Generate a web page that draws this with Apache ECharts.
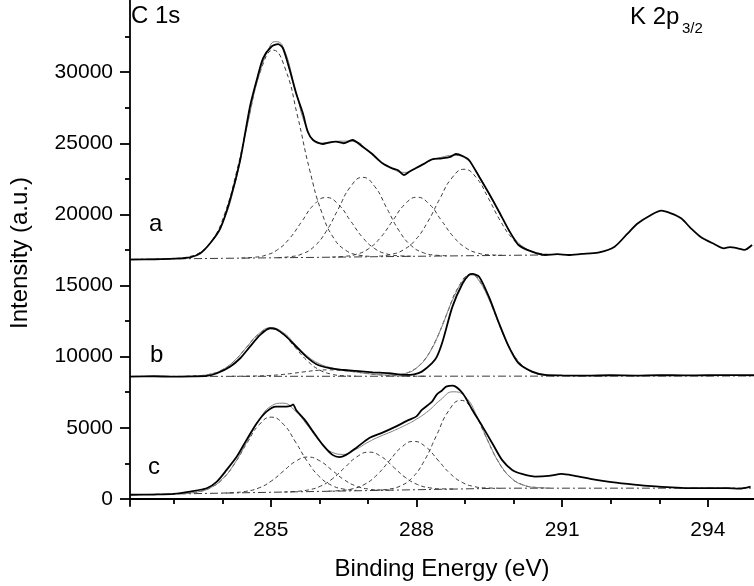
<!DOCTYPE html>
<html>
<head>
<meta charset="utf-8">
<script src="https://cdn.jsdelivr.net/npm/echarts@6/dist/echarts.min.js"></script>
<style>html,body{margin:0;padding:0;background:#fff}#chart{width:754px;height:586px}</style>
</head>
<body>
<div id="chart"></div>
<script>
// ---- tick values ----
const xMajorTicks = [285, 288, 291, 294];
const xMinorTicks = [283, 284, 286, 287, 289, 290, 292, 293];
const yMajorTicks = [0, 5000, 10000, 15000, 20000, 25000, 30000];
const yMinorTicks = [2500, 7500, 12500, 17500, 22500, 27500, 32500];

// ---- spectrum a ----
const spectrumA = [[282.1,16816],[282.6,16844],[283.0,16886],[283.34,16984],[283.55,17265],[283.75,17968],[283.96,19022],[284.16,21011],[284.37,23822],[284.57,27567],[284.71,29443],[284.84,30968],[285.01,31783],[285.15,31973],[285.25,31671],[285.39,30146],[285.52,28509],[285.66,27103],[285.76,25810],[285.87,25227],[286.07,24946],[286.2,25050],[286.34,25108],[286.5,25000],[286.68,25227],[286.89,24756],[287.09,24243],[287.3,23590],[287.5,23238],[287.62,23100],[287.74,22767],[287.85,23000],[287.98,23238],[288.15,23550],[288.32,23871],[288.52,23941],[288.7,24050],[288.81,24243],[288.95,24100],[289.08,23822],[289.29,22648],[289.49,21482],[289.7,20188],[289.9,18903],[290.1,17849],[290.38,17378],[290.65,17146],[290.9,17200],[291.13,17146],[291.4,17220],[291.74,17308],[292.08,17729],[292.35,18671],[292.56,19373],[292.83,19957],[293.04,20259],[293.24,20076],[293.45,19725],[293.65,19022],[293.86,18390],[294.13,17919],[294.33,17617],[294.45,17700],[294.61,17617],[294.75,17500],[294.91,17849]];
const envelopeA = [[283.5,17200],[283.75,17950],[284.0,19350],[284.25,22000],[284.5,26000],[284.75,29700],[285.0,31950],[285.1,32140],[285.25,31800],[285.5,28900],[285.75,26000],[286.0,25000],[286.25,25100],[286.5,25150],[286.75,25100],[287.0,24450],[287.25,23700],[287.5,23200],[287.75,22950],[288.0,23250],[288.25,23750],[288.5,24000],[288.75,24150],[289.0,23950],[289.25,22900],[289.5,21400],[289.75,19850],[290.0,18400],[290.25,17600],[290.5,17250]];
const baselineA = [[282.1,16840],[284,16910],[286,16980],[288,17055],[290.7,17150]];
const fitA1 = [[283.05,16906],[283.3,17015],[283.55,17350],[283.8,18216],[284.05,20050],[284.3,23068],[284.55,26873],[284.8,30196],[285.05,31548],[285.3,30214],[285.55,26909],[285.8,23122],[286.05,20123],[286.3,18307],[286.55,17459],[286.8,17142],[287.05,17051]];
const fitA2 = [[284.39,16933],[284.64,16980],[284.89,17126],[285.14,17519],[285.39,18324],[285.64,19517],[285.89,20686],[286.14,21188],[286.39,20704],[286.64,19553],[286.89,18379],[287.14,17592],[287.39,17217],[287.64,17089],[287.89,17061]];
const fitA3 = [[285.14,16963],[285.39,17022],[285.64,17215],[285.89,17735],[286.14,18803],[286.39,20387],[286.64,21939],[286.89,22605],[287.14,21957],[287.39,20423],[287.64,18857],[287.89,17808],[288.14,17306],[288.39,17132],[288.64,17091]];
const fitA4 = [[286.26,17001],[286.51,17047],[286.76,17192],[287.01,17580],[287.26,18375],[287.51,19555],[287.76,20709],[288.01,21206],[288.26,20727],[288.51,19591],[288.76,18430],[289.01,17653],[289.26,17283],[289.51,17156],[289.76,17128]];
const fitA5 = [[287.23,17065],[287.48,17184],[287.73,17505],[287.98,18215],[288.23,19466],[288.48,21098],[288.73,22566],[288.98,23171],[289.23,22584],[289.48,21134],[289.73,19520],[289.98,18288],[290.23,17597],[290.48,17294],[290.73,17193]];

// ---- spectrum b ----
const spectrumB = [[282.1,8600],[282.6,8620],[283.0,8590],[283.4,8610],[283.68,8640],[283.89,8833],[284.16,9297],[284.37,9887],[284.57,10702],[284.78,11524],[284.98,11995],[285.11,11925],[285.32,11405],[285.52,10702],[285.73,9999],[285.93,9486],[286.21,9184],[286.5,9060],[286.75,8994],[287.1,8900],[287.43,8833],[287.77,8713],[287.95,8760],[288.11,8945],[288.32,9536],[288.42,10000],[288.54,11100],[288.74,13513],[288.95,15157],[289.08,15750],[289.15,15811],[289.29,15621],[289.49,14216],[289.7,12346],[289.9,10702],[290.1,9536],[290.38,8945],[290.65,8713],[291.0,8680],[291.5,8660],[292.0,8690],[292.5,8670],[293.0,8700],[293.5,8680],[294.0,8690],[294.5,8700],[294.95,8690]];
const envelopeB = [[283.5,8657],[283.75,8767],[284.0,9074],[284.25,9710],[284.5,10660],[284.75,11600],[285.0,12031],[285.25,11705],[285.5,10880],[285.75,10048],[286.0,9499],[286.25,9216],[286.5,9054],[286.75,8923],[287.0,8805],[287.25,8723],[287.5,8700],[287.75,8803],[288.0,9205],[288.25,10188],[288.5,11926],[288.75,14041],[289.0,15547],[289.12,15750],[289.25,15514],[289.5,13961],[289.75,11843],[290.0,10135],[290.25,9175],[290.5,8778],[290.75,8655]];
const baselineB = [[282.1,8610],[294.95,8640]];
const fitB1 = [[283.25,8627],[283.5,8657],[283.75,8767],[284.0,9073],[284.25,9708],[284.5,10652],[284.75,11576],[285.0,11970],[285.25,11576],[285.5,10652],[285.75,9708],[286.0,9073],[286.25,8767],[286.5,8657],[286.75,8627]];
const fitB2 = [[284.2,8622],[284.45,8626],[284.7,8640],[284.95,8671],[285.2,8732],[285.45,8826],[285.7,8938],[285.95,9033],[286.2,9070],[286.45,9033],[286.7,8938],[286.95,8826],[287.2,8732],[287.45,8671],[287.7,8640],[287.95,8626],[288.2,8622]];
const fitB3 = [[287.37,8656],[287.62,8719],[287.87,8953],[288.12,9605],[288.37,10955],[288.62,12964],[288.87,14932],[289.12,15770],[289.37,14932],[289.62,12964],[289.87,10955],[290.12,9605],[290.37,8953],[290.62,8719],[290.87,8656]];

// ---- spectrum c ----
const spectrumC = [[282.1,290],[282.6,310],[283.0,351],[283.34,515],[283.68,750],[283.89,1218],[284.09,2038],[284.3,2975],[284.5,4146],[284.71,5319],[284.91,6135],[285.11,6486],[285.32,6486],[285.42,6560],[285.46,6650],[285.52,6254],[285.7,5551],[285.87,4729],[286.07,3795],[286.27,3092],[286.41,2930],[286.55,3092],[286.75,3563],[287.02,4265],[287.3,4659],[287.57,5081],[287.84,5551],[288.0,5800],[288.11,6254],[288.32,6837],[288.42,7350],[288.52,7600],[288.61,7891],[288.75,7962],[288.95,7428],[289.15,6254],[289.36,5081],[289.56,3914],[289.76,2741],[289.97,2038],[290.17,1757],[290.45,1567],[290.72,1616],[290.99,1757],[291.26,1616],[291.61,1384],[291.94,1216],[292.35,1054],[292.76,914],[293.17,822],[293.58,752],[293.99,752],[294.4,752],[294.65,720],[294.88,864]];
const envelopeC = [[283.25,392],[283.5,495],[283.75,772],[284.0,1387],[284.25,2477],[284.5,3970],[284.75,5487],[285.0,6509],[285.25,6728],[285.5,6192],[285.75,5183],[286.0,4072],[286.25,3295],[286.5,3128],[286.75,3479],[287.0,3979],[287.25,4395],[287.5,4748],[287.75,5145],[288.0,5605],[288.25,6201],[288.5,6977],[288.75,7529],[289.0,7193],[289.25,5773],[289.5,3866],[289.75,2274],[290.0,1331],[290.25,924],[290.5,792],[290.75,760]];
const baselineC = [[282.1,290],[289.8,752],[294.95,755]];
const fitC1 = [[283.26,393],[283.51,503],[283.76,789],[284.01,1413],[284.26,2506],[284.51,3930],[284.76,5213],[285.01,5745],[285.26,5243],[285.51,3990],[285.76,2596],[286.01,1533],[286.26,939],[286.51,683],[286.76,603]];
const fitC2 = [[284.01,410],[284.26,447],[284.51,542],[284.76,779],[285.01,1254],[285.26,1954],[285.51,2639],[285.76,2940],[286.01,2669],[286.26,2014],[286.51,1344],[286.76,899],[287.01,692],[287.26,627],[287.51,620]];
const fitC3 = [[285.27,486],[285.52,525],[285.77,629],[286.02,890],[286.27,1417],[286.52,2193],[286.77,2953],[287.02,3285],[287.27,2983],[287.52,2253],[287.77,1507],[288.02,1010],[288.27,779],[288.52,705],[288.77,696]];
const fitC4 = [[286.19,543],[286.44,589],[286.69,715],[286.94,1041],[287.19,1700],[287.44,2673],[287.69,3627],[287.94,4041],[288.19,3657],[288.44,2733],[288.69,1790],[288.94,1161],[289.19,865],[289.44,769],[289.69,753]];
const fitC5 = [[287.16,608],[287.41,678],[287.66,897],[287.91,1482],[288.16,2677],[288.41,4447],[288.66,6182],[288.91,6929],[289.16,6212],[289.41,4507],[289.66,2767],[289.91,1595],[290.16,1025],[290.41,821],[290.66,766]];

// ---- labels ----
const xAxisTitle = 'Binding Energy (eV)';
const yAxisTitle = 'Intensity (a.u.)';
const curveLabels = ['a', 'b', 'c'];

const FONT = '"Liberation Sans", Arial, sans-serif';
const chart = echarts.init(document.getElementById('chart'), null, {renderer: 'canvas'});

function comp(data) {
  return {type: 'line', data: data, showSymbol: false, smooth: 0.5, silent: true,
    lineStyle: {color: '#3a3a3a', width: 1, type: [4, 3]}, z: 2};
}
function base(data) {
  return {type: 'line', data: data, showSymbol: false, silent: true,
    lineStyle: {color: '#3a3a3a', width: 1, type: [8, 3, 2, 3]}, z: 2};
}
function env(data) {
  return {type: 'line', data: data, showSymbol: false, smooth: 0.5, silent: true,
    lineStyle: {color: '#808080', width: 1}, z: 3};
}
function spec(data) {
  return {type: 'line', data: data, showSymbol: false, smooth: 0.25, silent: true,
    lineStyle: {color: '#000', width: 1.8}, z: 4};
}

const series = [
  comp(fitA1), comp(fitA2), comp(fitA3), comp(fitA4), comp(fitA5), base(baselineA), env(envelopeA), spec(spectrumA),
  comp(fitB1), comp(fitB2), comp(fitB3), base(baselineB), env(envelopeB), spec(spectrumB),
  comp(fitC1), comp(fitC2), comp(fitC3), comp(fitC4), comp(fitC5), base(baselineC), env(envelopeC), spec(spectrumC)
];

const txt = (text, x, y, size) => ({
  type: 'text', x: x, y: y, silent: true, z: 10,
  style: {text: text, font: size + 'px ' + FONT, fill: '#000',
    textAlign: 'left', align: 'left', textVerticalAlign: 'middle', verticalAlign: 'middle'}
});

chart.setOption({
  animation: false,
  backgroundColor: '#fff',
  grid: {left: 126, right: 0, top: 0, bottom: 80, containLabel: false},
  xAxis: [{
    type: 'value', min: 282.1, max: 294.95, position: 'bottom',
    name: xAxisTitle, nameLocation: 'middle', nameGap: 51,
    nameTextStyle: {fontFamily: FONT, fontSize: 24, color: '#000'},
    axisLine: {show: true, lineStyle: {color: '#000', width: 1.8}},
    axisTick: {show: true, inside: false, length: 8, customValues: xMajorTicks, lineStyle: {color: '#000', width: 1.8}},
    axisLabel: {show: true, customValues: xMajorTicks, margin: 14, fontFamily: FONT, fontSize: 21, color: '#000',
      formatter: v => String(v)},
    splitLine: {show: false}
  }, {
    type: 'value', min: 282.1, max: 294.95, position: 'bottom', offset: 0,
    axisLine: {show: false},
    axisTick: {show: true, inside: false, length: 5, customValues: xMinorTicks, lineStyle: {color: '#000', width: 1.8}},
    axisLabel: {show: false},
    splitLine: {show: false}
  }],
  yAxis: [{
    type: 'value', min: -500, max: 35070, position: 'left',
    name: yAxisTitle, nameLocation: 'middle', nameGap: 98, nameRotate: 90,
    nameTextStyle: {fontFamily: FONT, fontSize: 24, color: '#000'},
    axisLine: {show: true, lineStyle: {color: '#000', width: 1.8}},
    axisTick: {show: true, inside: false, length: 10, customValues: yMajorTicks, lineStyle: {color: '#000', width: 1.8}},
    axisLabel: {show: true, customValues: yMajorTicks, margin: 17, fontFamily: FONT, fontSize: 21, color: '#000',
      formatter: v => String(v)},
    splitLine: {show: false}
  }, {
    type: 'value', min: -500, max: 35070, position: 'left', offset: 0,
    axisLine: {show: false},
    axisTick: {show: true, inside: false, length: 5, customValues: yMinorTicks, lineStyle: {color: '#000', width: 1.8}},
    axisLabel: {show: false},
    splitLine: {show: false}
  }],
  series: series,
  graphic: [
    txt('C 1s', 131, 16, 24),
    txt('K 2p', 630, 17.5, 24),
    txt('3/2', 682, 28.5, 15),
    txt(curveLabels[0], 149, 224, 24),
    txt(curveLabels[1], 150, 355, 24),
    txt(curveLabels[2], 148, 467, 24)
  ]
});
</script>
</body>
</html>
